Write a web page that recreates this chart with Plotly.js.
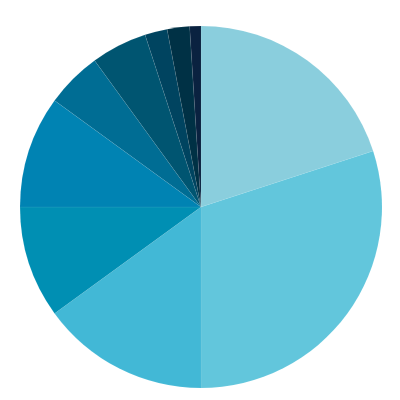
<!DOCTYPE html>
<html>
<head>
<meta charset="utf-8">
<script src="https://cdn.plot.ly/plotly-3.0.1.min.js"></script>
<style>
  html, body { margin: 0; padding: 0; background: #fff; }
  #plot { width: 400px; height: 400px; }
</style>
</head>
<body>
<div id="plot"></div>
<script>
// slice shares (percent)
var labels = ['A', 'B', 'C', 'D', 'E', 'F', 'G', 'H', 'I', 'J']
var values = [20, 30, 15, 10, 10, 5, 5, 2, 2, 1]
var colors = ['#8acedd', '#62c6dc', '#42b8d6', '#008fb3', '#0083b3',
              '#006d94', '#005571', '#004460', '#003145', '#0a2240']

var trace = {
  type: 'pie',
  labels: labels,
  values: values,
  sort: false,
  direction: 'clockwise',
  rotation: 0,
  textinfo: 'none',
  hoverinfo: 'label+percent',
  marker: {
    colors: colors,
    line: { color: 'rgba(255,255,255,0.12)', width: 0.5 }
  }
}

var layout = {
  width: 400,
  height: 400,
  showlegend: false,
  margin: { l: 20, r: 18, t: 26, b: 12 },
  paper_bgcolor: '#fff'
}

Plotly.newPlot('plot', [trace], layout, { displayModeBar: false, staticPlot: true })
</script>
</body>
</html>
